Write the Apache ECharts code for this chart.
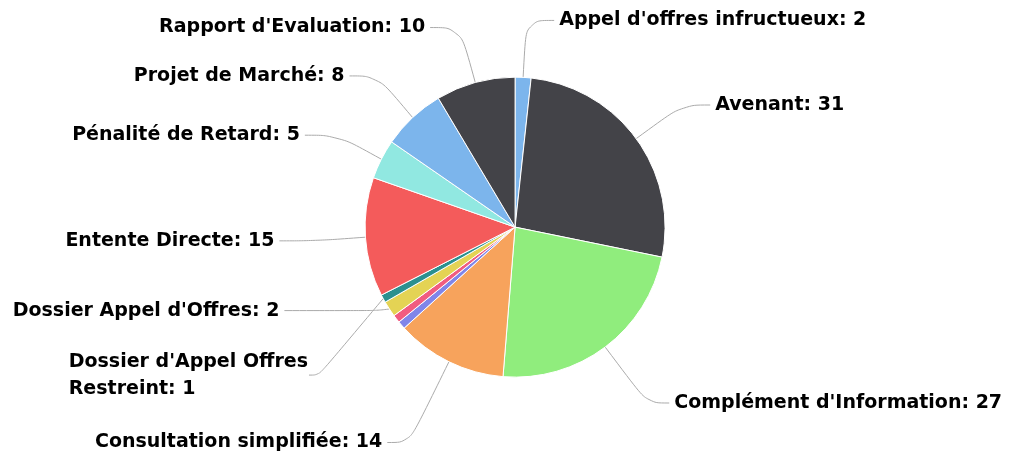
<!DOCTYPE html>
<html>
<head>
<meta charset="utf-8">
<script src="https://cdn.jsdelivr.net/npm/echarts@6/dist/echarts.min.js"></script>
<style>
  html, body { margin: 0; padding: 0; background: #fff; }
  #chart { width: 1024px; height: 457px; }
</style>
</head>
<body>
<div id="chart"></div>
<script>
// catégories, dans l'ordre horaire à partir du haut
const names = [
  "Appel d'offres infructueux",
  'Avenant',
  "Complément d'Information",
  'Consultation simplifiée',
  'Non libellé 1',
  'Non libellé 2',
  "Dossier Appel d'Offres",
  "Dossier d'Appel Offres Restreint",
  'Entente Directe',
  'Pénalité de Retard',
  'Projet de Marché',
  "Rapport d'Evaluation"
];
const values = [2, 31, 27, 14, 1, 1, 2, 1, 15, 5, 8, 10];
// étiquettes non visibles sur l'image
const hiddenLabels = ['Non libellé 1', 'Non libellé 2'];
const wrappedLabel = "Dossier d'Appel Offres Restreint";
const colors = ['#7cb5ec', '#434348', '#90ed7d', '#f7a35c', '#8085e9', '#f15c80',
  '#e4d354', '#2b908f', '#f45b5b', '#91e8e1', '#7cb5ec', '#434348'];

// longueurs de trait par étiquette (style)
const lineLen = {
  "Complément d'Information": [70, 22],
  'Consultation simplifiée': [90, 22],
  "Dossier Appel d'Offres": [3, 92],
  "Dossier d'Appel Offres Restreint": [70, 10],
  'Pénalité de Retard': [53, 33],
  'Entente Directe': [55, 36],
  "Rapport d'Evaluation": [57, 30]
};

const seriesData = names.map((n, i) => {
  const item = { name: n, value: values[i], itemStyle: { color: colors[i] } };
  if (hiddenLabels.includes(n)) {
    item.label = { show: false };
    item.labelLine = { show: false };
  }
  if (lineLen[n]) {
    item.labelLine = { length: lineLen[n][0], length2: lineLen[n][1] };
  }
  return item;
});

let myChart = echarts.init(document.getElementById('chart'));
let option = {
  animation: false,
  series: [
    {
      type: 'pie',
      center: ['50.3%', '49.7%'],
      radius: 150,
      startAngle: 90,
      clockwise: true,
      avoidLabelOverlap: true,
      itemStyle: {
        borderColor: '#fff',
        borderWidth: 1
      },
      label: {
        show: true,
        formatter: function (p) {
          if (p.name === wrappedLabel) {
            const words = p.name.split(' ');
            const last = words.pop();
            return words.join(' ') + '\n' + last + ': ' + p.value;
          }
          return p.name + ': ' + p.value;
        },
        color: '#000',
        fontFamily: 'DejaVu Sans',
        fontWeight: 'bold',
        fontSize: 19,
        lineHeight: 27,
        textBorderColor: '#fff',
        textBorderWidth: 2,
        distanceToLabelLine: 5
      },
      labelLine: {
        show: true,
        length: 57,
        length2: 28,
        smooth: 0.4,
        lineStyle: {
          color: '#aaa',
          width: 1
        }
      },
      labelLayout: function (params) {
        // libellé sur deux lignes, aligné à gauche et un peu plus bas
        if (names[params.dataIndex] === wrappedLabel) {
          return {
            x: params.labelRect.x - 8,
            y: params.labelRect.y + 22,
            align: 'left',
            verticalAlign: 'top'
          };
        }
        return {};
      },
      data: seriesData
    }
  ]
};
myChart.setOption(option);
</script>
</body>
</html>
